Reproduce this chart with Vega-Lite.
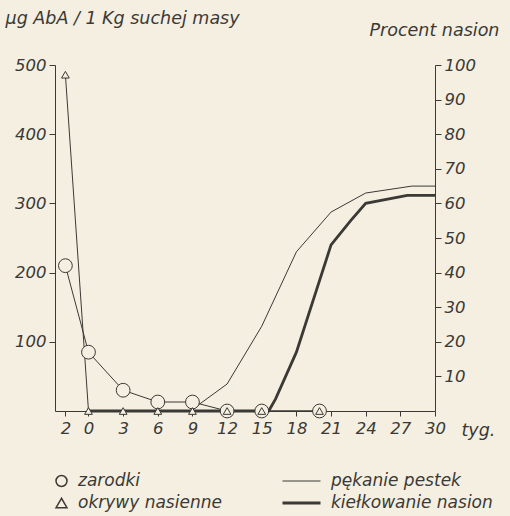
{
  "$schema": "https://vega.github.io/schema/vega-lite/v6.json",
  "width": 380,
  "height": 346,
  "autosize": "none",
  "padding": {"left": 55, "top": 65, "right": 75, "bottom": 105},
  "background": "#f4efe1",
  "config": {
    "view": {"stroke": null},
    "font": "DejaVu Sans",
    "axis": {
      "grid": false,
      "labelFont": "DejaVu Sans",
      "labelFontStyle": "italic",
      "labelFontSize": 16.5,
      "labelColor": "#3b3935",
      "domainColor": "#3b3935",
      "tickColor": "#3b3935",
      "titleFont": "DejaVu Sans",
      "titleFontStyle": "italic",
      "titleFontWeight": "normal",
      "titleFontSize": 17.5,
      "titleColor": "#3b3935"
    },
    "legend": {
      "labelFont": "DejaVu Sans",
      "labelFontStyle": "italic",
      "labelFontSize": 17,
      "labelColor": "#3b3935",
      "labelLimit": 300
    }
  },
  "datasets": {
    "aba": [
      {"week": -2, "series": "zarodki", "value": 210},
      {"week": 0, "series": "zarodki", "value": 85},
      {"week": 3, "series": "zarodki", "value": 30},
      {"week": 6, "series": "zarodki", "value": 13},
      {"week": 9, "series": "zarodki", "value": 13},
      {"week": 12, "series": "zarodki", "value": 0},
      {"week": 15, "series": "zarodki", "value": 0},
      {"week": 20, "series": "zarodki", "value": 0},
      {"week": -2, "series": "okrywy nasienne", "value": 486},
      {"week": 0, "series": "okrywy nasienne", "value": 0},
      {"week": 3, "series": "okrywy nasienne", "value": 0},
      {"week": 6, "series": "okrywy nasienne", "value": 0},
      {"week": 9, "series": "okrywy nasienne", "value": 0},
      {"week": 12, "series": "okrywy nasienne", "value": 0},
      {"week": 15, "series": "okrywy nasienne", "value": 0},
      {"week": 20, "series": "okrywy nasienne", "value": 0}
    ],
    "pct": [
      {"week": 9, "series": "pękanie pestek", "percent": 0.5},
      {"week": 12, "series": "pękanie pestek", "percent": 7.8},
      {"week": 15, "series": "pękanie pestek", "percent": 24.5},
      {"week": 18, "series": "pękanie pestek", "percent": 46},
      {"week": 21, "series": "pękanie pestek", "percent": 57.5},
      {"week": 24, "series": "pękanie pestek", "percent": 63},
      {"week": 28, "series": "pękanie pestek", "percent": 65},
      {"week": 30, "series": "pękanie pestek", "percent": 65},
      {"week": 0, "series": "kiełkowanie nasion", "percent": 0},
      {"week": 15.6, "series": "kiełkowanie nasion", "percent": 0},
      {"week": 16.2, "series": "kiełkowanie nasion", "percent": 3.5},
      {"week": 18, "series": "kiełkowanie nasion", "percent": 17},
      {"week": 21, "series": "kiełkowanie nasion", "percent": 48},
      {"week": 22.7, "series": "kiełkowanie nasion", "percent": 55},
      {"week": 24, "series": "kiełkowanie nasion", "percent": 60},
      {"week": 27.6, "series": "kiełkowanie nasion", "percent": 62.3},
      {"week": 30, "series": "kiełkowanie nasion", "percent": 62.3}
    ]
  },
  "encoding": {
    "x": {
      "field": "week",
      "type": "quantitative",
      "scale": {"domain": [-2.9, 30], "nice": false, "zero": false},
      "axis": {
        "values": [-2, 0, 3, 6, 9, 12, 15, 18, 21, 24, 27, 30],
        "labelExpr": "abs(datum.value)",
        "labelFlush": false,
        "labelOverlap": false,
        "tickSize": 5,
        "labelPadding": 4,
        "title": "tyg.",
        "titleAlign": "left",
        "titleBaseline": "top",
        "titleX": 406,
        "titleY": 10
      }
    }
  },
  "layer": [
    {
      "data": {"name": "aba"},
      "mark": {"type": "line", "color": "#3b3935", "strokeWidth": 1},
      "encoding": {
        "y": {
          "field": "value",
          "type": "quantitative",
          "scale": {"domain": [0, 500], "nice": false},
          "axis": {
            "values": [100, 200, 300, 400, 500],
            "tickSize": 6,
            "labelPadding": 3,
            "title": "µg AbA / 1 Kg suchej masy",
            "titleAngle": 0,
            "titleAlign": "left",
            "titleBaseline": "middle",
            "titleX": -50,
            "titleY": -47
          }
        },
        "detail": {"field": "series"}
      }
    },
    {
      "data": {"name": "pct"},
      "mark": {"type": "line", "color": "#3b3935"},
      "encoding": {
        "y": {
          "field": "percent",
          "type": "quantitative",
          "scale": {"domain": [0, 100], "nice": false},
          "axis": {
            "orient": "right",
            "values": [10, 20, 30, 40, 50, 60, 70, 80, 90, 100],
            "tickSize": 6,
            "labelPadding": 3,
            "title": "Procent nasion",
            "titleAngle": 0,
            "titleAlign": "left",
            "titleBaseline": "middle",
            "titleX": -66,
            "titleY": -35
          }
        },
        "strokeWidth": {
          "field": "series",
          "type": "nominal",
          "scale": {"domain": ["pękanie pestek", "kiełkowanie nasion"], "range": [1, 2.8]},
          "legend": {
            "title": null,
            "orient": "none",
            "legendX": 226,
            "legendY": 406,
            "symbolType": "stroke",
            "symbolSize": 1444,
            "symbolStrokeColor": "#3b3935",
            "labelOffset": 9,
            "clipHeight": 20,
            "rowPadding": 2
          }
        }
      }
    },
    {
      "data": {"name": "aba"},
      "transform": [{"filter": "datum.series === 'zarodki'"}],
      "mark": {"type": "point", "filled": true, "fill": "#f4efe1", "stroke": "#3b3935", "strokeWidth": 1, "opacity": 1, "size": 190},
      "encoding": {
        "y": {
          "field": "value",
          "type": "quantitative",
          "scale": {"domain": [0, 500], "nice": false},
          "axis": null
        },
        "shape": {
          "field": "series",
          "type": "nominal",
          "scale": {"domain": ["zarodki", "okrywy nasienne"], "range": ["circle", "triangle-up"]},
          "legend": {
            "title": null,
            "orient": "none",
            "legendX": -2,
            "legendY": 406,
            "symbolSize": 120,
            "labelOffset": 8,
            "clipHeight": 20,
            "rowPadding": 2,
            "encode": {
              "symbols": {
                "update": {
                  "fill": {"value": "#f4efe1"},
                  "stroke": {"value": "#3b3935"},
                  "strokeWidth": {"value": 1},
                  "opacity": {"value": 1},
                  "fillOpacity": {"value": 1},
                  "strokeOpacity": {"value": 1}
                }
              }
            }
          }
        }
      }
    },
    {
      "data": {"name": "aba"},
      "transform": [{"filter": "datum.series === 'okrywy nasienne'"}],
      "mark": {"type": "point", "filled": true, "fill": "#f4efe1", "stroke": "#3b3935", "strokeWidth": 1, "opacity": 1, "size": 60},
      "encoding": {
        "y": {
          "field": "value",
          "type": "quantitative",
          "scale": {"domain": [0, 500], "nice": false},
          "axis": null
        },
        "shape": {
          "field": "series",
          "type": "nominal",
          "scale": {"domain": ["zarodki", "okrywy nasienne"], "range": ["circle", "triangle-up"]},
          "legend": {
            "title": null,
            "orient": "none",
            "legendX": -2,
            "legendY": 406,
            "symbolSize": 120,
            "labelOffset": 8,
            "clipHeight": 20,
            "rowPadding": 2,
            "encode": {
              "symbols": {
                "update": {
                  "fill": {"value": "#f4efe1"},
                  "stroke": {"value": "#3b3935"},
                  "strokeWidth": {"value": 1},
                  "opacity": {"value": 1},
                  "fillOpacity": {"value": 1},
                  "strokeOpacity": {"value": 1}
                }
              }
            }
          }
        }
      }
    }
  ],
  "resolve": {
    "scale": {"y": "independent"}
  }
}
